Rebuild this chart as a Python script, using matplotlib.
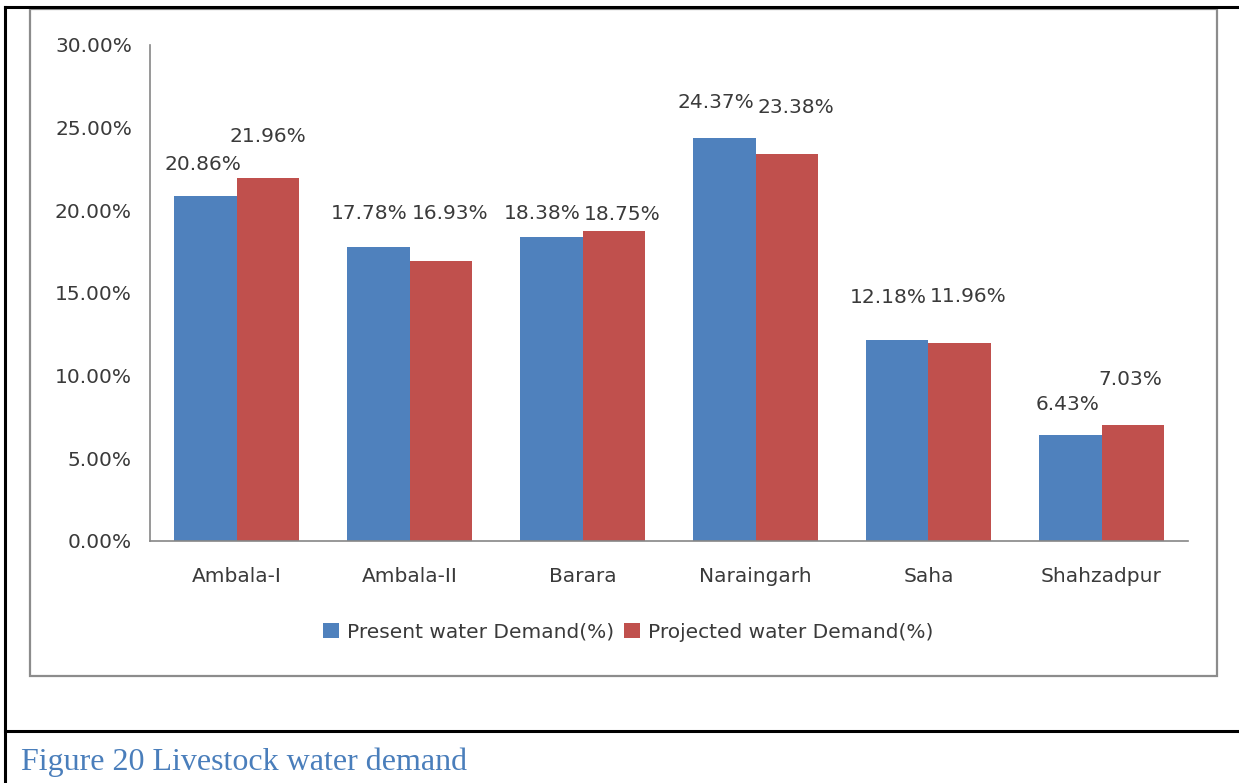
import matplotlib
matplotlib.use("Agg")
import matplotlib.pyplot as plt
from matplotlib.lines import Line2D
from matplotlib.patches import Rectangle
from matplotlib.ticker import FuncFormatter
import numpy as np

blocks = ["Ambala-I", "Ambala-II", "Barara", "Naraingarh", "Saha", "Shahzadpur"]
present = [20.86, 17.78, 18.38, 24.37, 12.18, 6.43]
projected = [21.96, 16.93, 18.75, 23.38, 11.96, 7.03]
series_names = ["Present water Demand(%)", "Projected water Demand(%)"]
caption = "Figure 20 Livestock water demand"

BLUE = "#4F81BD"
RED = "#C0504D"
TEXT = "#3a3a3a"
FS = 14.5

# hand-placed data label offsets (pixels) so neighbouring labels don't collide
present_off = [(-2, 32), (-9, 34), (-9, 24), (-8, 36), (-9, 42), (-3, 30)]
projected_off = [(0, 41), (9, 48), (9, 16), (9, 47), (9, 47), (-2, 45)]

plt.rcParams["font.family"] = ["DejaVu Sans"]

fig = plt.figure(figsize=(12.39, 7.83), dpi=100)
W, H = 1239, 783


def fx(px):
    return px / W


def fy(py):
    return 1 - py / H


# table borders around the figure
for xs, ys in [((5, 1239), (7, 7)), ((5, 5), (7, 783)), ((5, 1239), (731, 731))]:
    fig.add_artist(Line2D([fx(x) for x in xs], [fy(y) for y in ys],
                          color="black", lw=2.2))

# chart area frame
fig.add_artist(Rectangle((fx(30), fy(676)), fx(1217) - fx(30), fy(9) - fy(676),
                         fill=False, edgecolor="#8c8c8c", lw=1.6))

ax = fig.add_axes([fx(150), fy(541), fx(1188) - fx(150), fy(45) - fy(541)])

x = np.arange(len(blocks))
w = 0.36
b1 = ax.bar(x - w / 2, present, w, color=BLUE, label=series_names[0])
b2 = ax.bar(x + w / 2, projected, w, color=RED, label=series_names[1])

for bars, vals, offs in [(b1, present, present_off), (b2, projected, projected_off)]:
    for bar, v, (dx, dy) in zip(bars, vals, offs):
        ax.annotate("{:.2f}%".format(v), (bar.get_x() + bar.get_width() / 2, v),
                    xytext=(dx, dy), textcoords="offset pixels",
                    ha="center", va="center", fontsize=FS, color=TEXT)

ax.set_xlim(-0.5, len(blocks) - 0.5)
ax.set_ylim(0, 30)
ax.set_yticks(np.arange(0, 31, 5))
ax.yaxis.set_major_formatter(FuncFormatter(lambda v, p: "{:.2f}%".format(v)))
ax.set_xticks(x)
ax.set_xticklabels(blocks)
ax.tick_params(axis="y", length=0, pad=13, labelsize=FS, labelcolor=TEXT)
ax.tick_params(axis="x", length=0, pad=19, labelsize=FS, labelcolor=TEXT)
for side in ["top", "right"]:
    ax.spines[side].set_visible(False)
for side in ["left", "bottom"]:
    ax.spines[side].set_color("#868686")
    ax.spines[side].set_linewidth(1.2)

fig.legend(handles=[b1, b2], labels=series_names, loc="center",
           bbox_to_anchor=(fx(628), fy(632)), ncol=2, frameon=False,
           fontsize=FS, handlelength=0.8, handleheight=0.8,
           handletextpad=0.4, columnspacing=0.5, labelcolor=TEXT)

fig.text(fx(21), fy(770), caption, ha="left", va="baseline",
         family="Liberation Serif", fontsize=23, color="#4A7EBB")

fig.savefig("out.png", dpi=100)
